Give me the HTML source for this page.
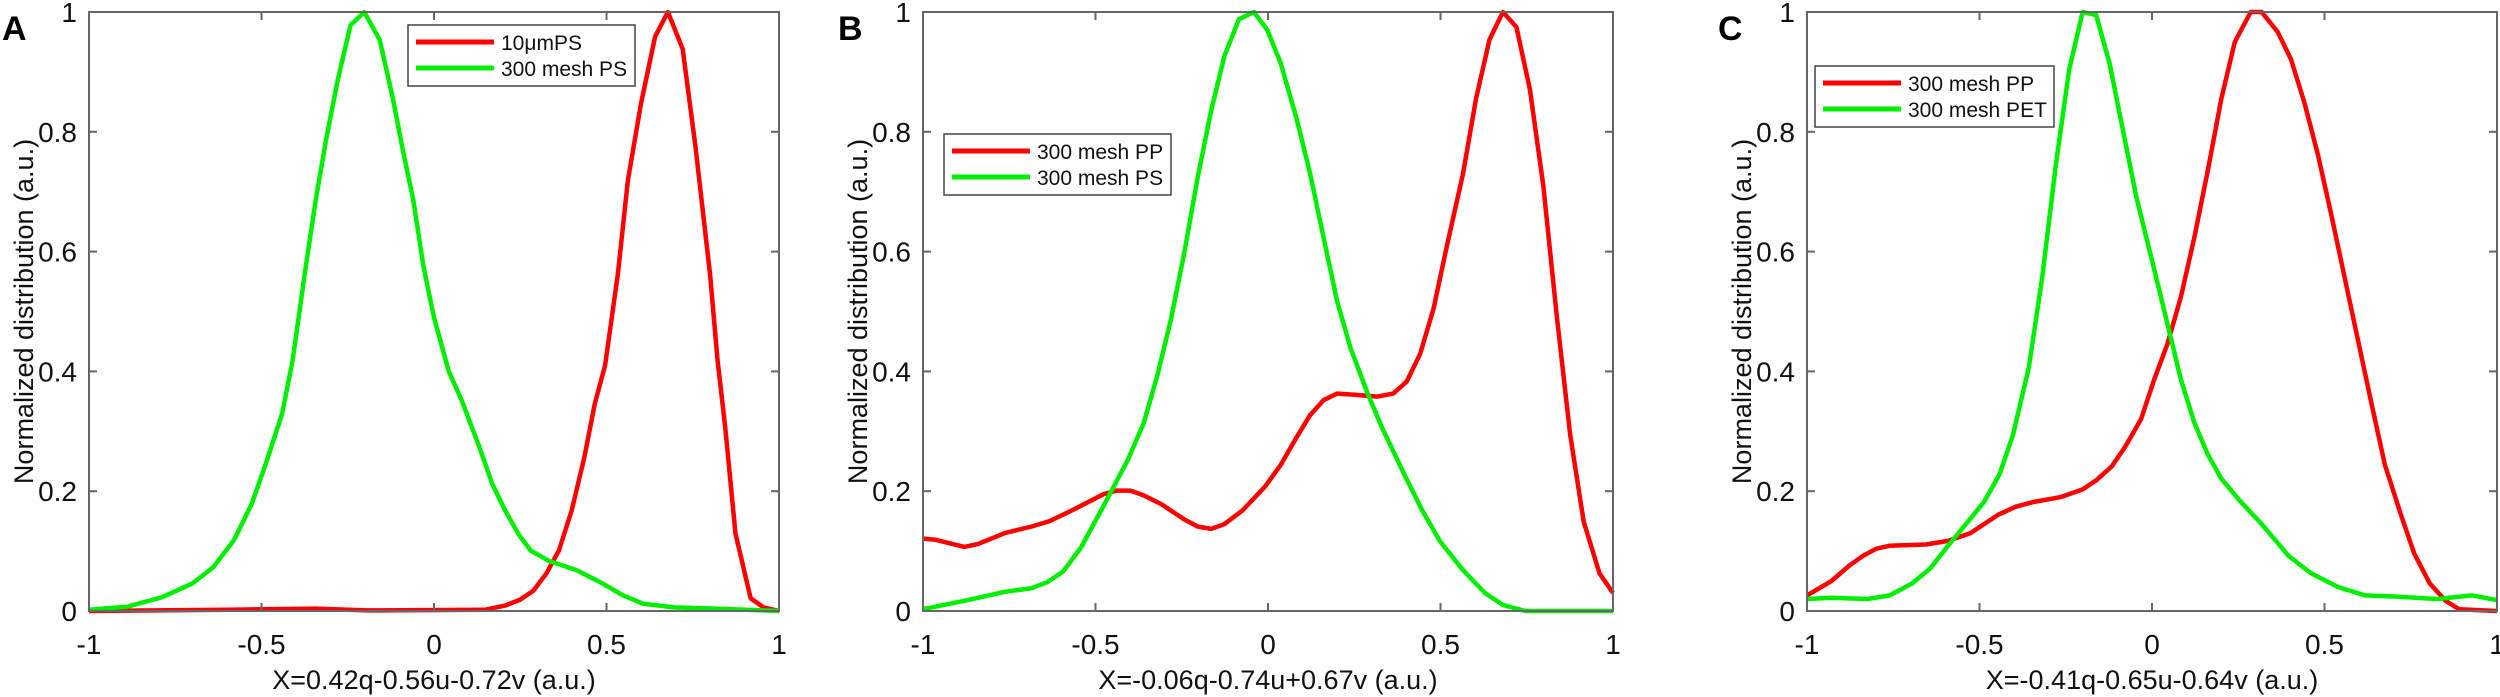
<!DOCTYPE html>
<html><head><meta charset="utf-8"><style>
html,body{margin:0;padding:0;background:#fff;}
svg{display:block;font-family:"Liberation Sans",Arial,sans-serif;}
</style></head><body>
<svg id="fig" width="2500" height="697" viewBox="0 0 2500 697" xmlns="http://www.w3.org/2000/svg"></svg>
<script>
// ---- data ----
const xTicks = [-1, -0.5, 0, 0.5, 1];
const xTickLabels = ["-1", "-0.5", "0", "0.5", "1"];
const yTicks = [0, 0.2, 0.4, 0.6, 0.8, 1];
const yTickLabels = ["0", "0.2", "0.4", "0.6", "0.8", "1"];

const aRedX = [-1,-0.6,-0.343,-0.194,0.147,0.206,0.25,0.288,0.325,0.362,0.399,0.436,0.466,0.496,0.533,0.562,0.6,0.641,0.678,0.721,0.758,0.8,0.822,0.844,0.874,0.918,0.955,1];
const aRedY = [0,0.002,0.004,0.001,0.002,0.009,0.019,0.034,0.062,0.101,0.168,0.257,0.346,0.41,0.563,0.719,0.847,0.959,1,0.938,0.775,0.563,0.418,0.307,0.129,0.021,0.006,0];
const aGreenX = [-1,-0.89,-0.788,-0.7,-0.64,-0.58,-0.528,-0.484,-0.44,-0.41,-0.372,-0.343,-0.313,-0.279,-0.242,-0.202,-0.157,-0.12,-0.09,-0.06,-0.03,0,0.043,0.081,0.132,0.169,0.206,0.244,0.28,0.332,0.414,0.488,0.548,0.607,0.696,0.815,1];
const aGreenY = [0.002,0.007,0.023,0.046,0.073,0.118,0.179,0.252,0.33,0.418,0.574,0.686,0.786,0.886,0.978,1,0.953,0.858,0.769,0.686,0.574,0.49,0.4,0.351,0.273,0.212,0.168,0.129,0.101,0.084,0.068,0.046,0.026,0.012,0.006,0.004,0];

const bRedX = [-1,-0.965,-0.88,-0.84,-0.763,-0.685,-0.633,-0.568,-0.477,-0.438,-0.399,-0.36,-0.308,-0.243,-0.204,-0.165,-0.126,-0.074,-0.008,0.037,0.083,0.122,0.161,0.2,0.252,0.317,0.363,0.402,0.441,0.48,0.519,0.565,0.603,0.642,0.681,0.72,0.759,0.798,0.837,0.876,0.915,0.961,1];
const bRedY = [0.121,0.119,0.107,0.112,0.13,0.141,0.15,0.168,0.195,0.201,0.201,0.193,0.178,0.153,0.141,0.137,0.145,0.168,0.208,0.244,0.29,0.327,0.352,0.363,0.361,0.358,0.363,0.383,0.429,0.505,0.611,0.729,0.855,0.954,1,0.975,0.871,0.71,0.492,0.294,0.149,0.063,0.03];
const bGreenX = [-1,-0.88,-0.763,-0.685,-0.64,-0.594,-0.542,-0.477,-0.405,-0.36,-0.321,-0.282,-0.243,-0.204,-0.165,-0.126,-0.084,-0.041,-0.002,0.037,0.083,0.122,0.161,0.2,0.239,0.291,0.33,0.395,0.447,0.499,0.564,0.629,0.681,0.746,1];
const bGreenY = [0.003,0.017,0.032,0.038,0.048,0.066,0.106,0.175,0.254,0.314,0.393,0.485,0.597,0.723,0.835,0.927,0.988,1,0.97,0.914,0.822,0.73,0.624,0.518,0.439,0.36,0.307,0.228,0.168,0.116,0.069,0.03,0.01,0,0];

const cRedX = [-1,-0.929,-0.877,-0.838,-0.799,-0.76,-0.656,-0.591,-0.526,-0.448,-0.396,-0.344,-0.266,-0.201,-0.162,-0.117,-0.078,-0.032,0.006,0.045,0.084,0.123,0.162,0.201,0.24,0.286,0.318,0.364,0.403,0.442,0.481,0.519,0.558,0.597,0.636,0.675,0.721,0.76,0.805,0.851,0.89,1];
const cRedY = [0.026,0.05,0.076,0.092,0.104,0.109,0.111,0.117,0.13,0.16,0.174,0.182,0.19,0.203,0.218,0.241,0.274,0.32,0.386,0.446,0.525,0.624,0.736,0.855,0.95,1,1,0.967,0.921,0.848,0.762,0.663,0.558,0.452,0.347,0.244,0.162,0.096,0.046,0.017,0.003,0];
const cGreenX = [-1,-0.929,-0.825,-0.76,-0.695,-0.643,-0.591,-0.539,-0.487,-0.442,-0.403,-0.357,-0.318,-0.279,-0.24,-0.201,-0.162,-0.123,-0.084,-0.045,0.006,0.045,0.084,0.123,0.162,0.201,0.253,0.318,0.396,0.461,0.539,0.617,0.708,0.825,0.929,1];
const cGreenY = [0.02,0.022,0.02,0.026,0.046,0.071,0.109,0.145,0.182,0.228,0.294,0.406,0.558,0.743,0.904,1,0.995,0.914,0.802,0.69,0.571,0.479,0.386,0.314,0.261,0.221,0.185,0.145,0.092,0.063,0.04,0.026,0.024,0.02,0.026,0.018];

const panels = [
  {id:"a", letter:"A", left:89, xTitle:"X=0.42q-0.56u-0.72v (a.u.)",
   series:[{x:aRedX,y:aRedY,c:"#ff0000",name:"10μmPS"},{x:aGreenX,y:aGreenY,c:"#00ee00",name:"300 mesh PS"}],
   legend:{x:408,y:25,w:227,h:61}, letterX:2},
  {id:"b", letter:"B", left:923, xTitle:"X=-0.06q-0.74u+0.67v (a.u.)",
   series:[{x:bRedX,y:bRedY,c:"#ff0000",name:"300 mesh PP"},{x:bGreenX,y:bGreenY,c:"#00ee00",name:"300 mesh PS"}],
   legend:{x:944,y:134,w:227,h:61}, letterX:838},
  {id:"c", letter:"C", left:1807, xTitle:"X=-0.41q-0.65u-0.64v (a.u.)",
   series:[{x:cRedX,y:cRedY,c:"#ff0000",name:"300 mesh PP"},{x:cGreenX,y:cGreenY,c:"#00ee00",name:"300 mesh PET"}],
   legend:{x:1815,y:66,w:239,h:61}, letterX:1718}
];

const NS = "http://www.w3.org/2000/svg";
const svg = document.getElementById("fig");
const W = 690, TOP = 12, BOT = 611;
function mk(tag, attrs, parent){ const e=document.createElementNS(NS,tag); for(const k in attrs) e.setAttribute(k,attrs[k]); (parent||svg).appendChild(e); return e; }

panels.forEach(p=>{
  const sx = v => p.left + (v+1)/2*W;
  const sy = v => BOT - v*(BOT-TOP);
  const g = mk("g",{});
  
  

  const lt = mk("text",{x:p.letterX,y:40,"font-size":34,"font-weight":"bold",fill:"#000"},g);
  lt.textContent = p.letter;
  
  

  // series
  p.series.forEach((s,i)=>{
    const pts = s.x.map((xv,j)=>sx(xv).toFixed(1)+","+sy(s.y[j]).toFixed(1)).join(" ");
    const pl = mk("polyline",{points:pts,fill:"none",stroke:s.c,"stroke-width":4.5,"stroke-linejoin":"round"},g);
    
    
  });

  // axes box
  const box = mk("rect",{x:p.left,y:TOP,width:W,height:BOT-TOP,fill:"none",stroke:"#666","stroke-width":2},g);
  
  

  xTicks.forEach((t,i)=>{
    const x = sx(t);
    mk("line",{x1:x,y1:BOT,x2:x,y2:BOT-8,stroke:"#666","stroke-width":2},g);
    mk("line",{x1:x,y1:TOP,x2:x,y2:TOP+8,stroke:"#666","stroke-width":2},g);
    const tx = mk("text",{x:x,y:654,"font-size":28,"text-anchor":"middle",fill:"#111"},g);
    tx.textContent = xTickLabels[i];
    
    
  });
  yTicks.forEach((t,i)=>{
    const y = sy(t);
    mk("line",{x1:p.left,y1:y,x2:p.left+8,y2:y,stroke:"#666","stroke-width":2},g);
    mk("line",{x1:p.left+W,y1:y,x2:p.left+W-8,y2:y,stroke:"#666","stroke-width":2},g);
    const ty = mk("text",{x:p.left-12,y:y+10,"font-size":28,"text-anchor":"end",fill:"#111"},g);
    ty.textContent = yTickLabels[i];
    
    
  });

  const xt = mk("text",{x:p.left+W/2,y:689,"font-size":27,"text-anchor":"middle",fill:"#111"},g);
  xt.textContent = p.xTitle;
  
  

  const yt = mk("text",{x:0,y:0,"font-size":27,"text-anchor":"middle",fill:"#111",transform:"translate("+(p.left-56)+","+((TOP+BOT)/2)+") rotate(-90)"},g);
  yt.textContent = "Normalized distribution (a.u.)";
  
  

  // legend
  const L = p.legend;
  const lg = mk("g",{},g);
  
  
  mk("rect",{x:L.x,y:L.y,width:L.w,height:L.h,fill:"#fff",stroke:"#444","stroke-width":1.5},lg);
  p.series.forEach((s,i)=>{
    const yy = L.y + 17 + i*26;
    mk("line",{x1:L.x+8,y1:yy,x2:L.x+86,y2:yy,stroke:s.c,"stroke-width":5},lg);
    const le = mk("text",{x:L.x+93,y:yy+8,"font-size":21,fill:"#111"},lg);
    le.textContent = s.name;
    
    
  });
});
</script>
</body></html>
